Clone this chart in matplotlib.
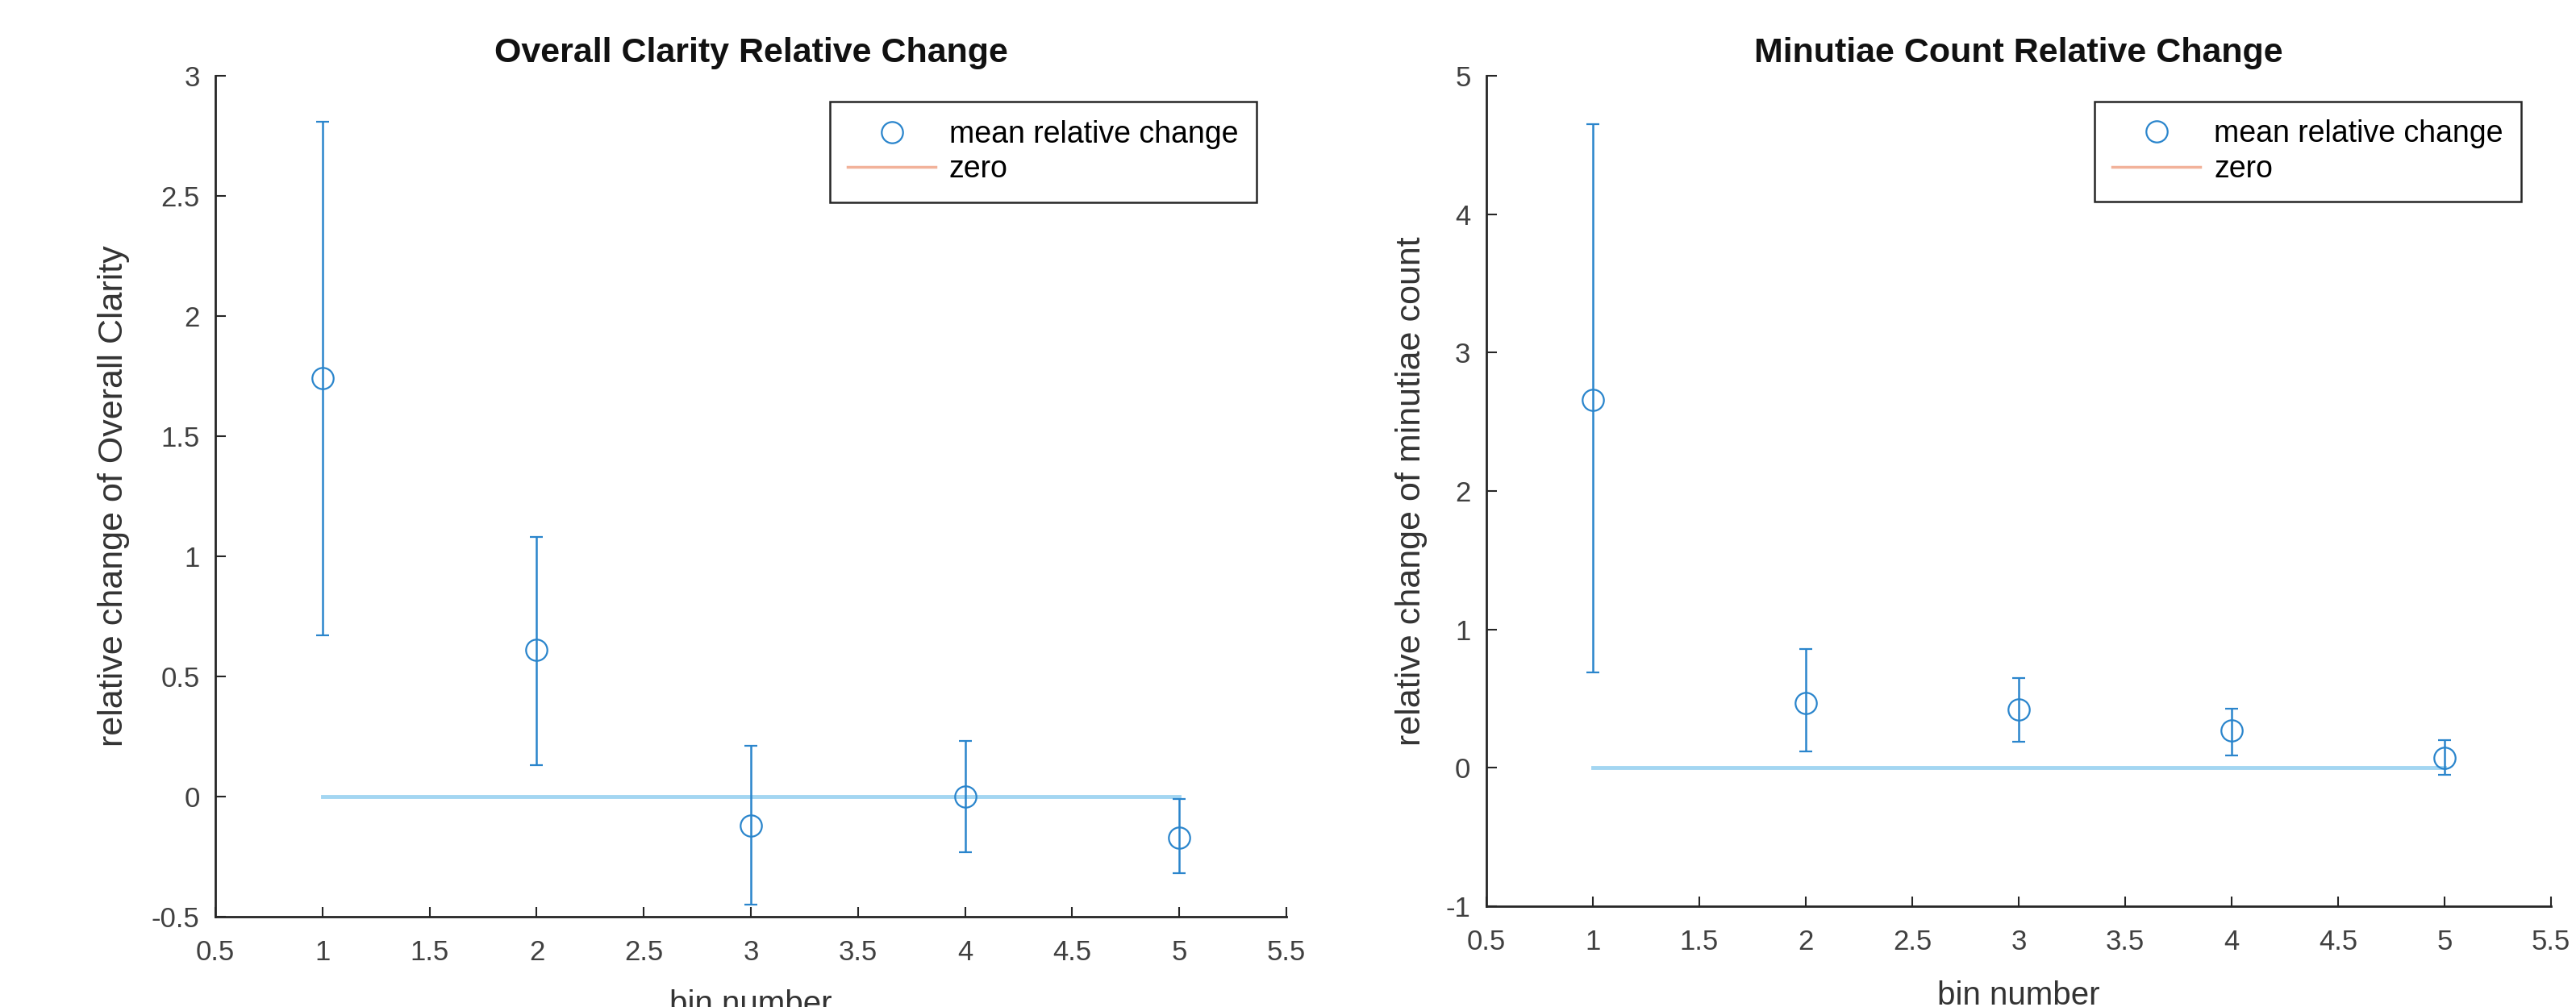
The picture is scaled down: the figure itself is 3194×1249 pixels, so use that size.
import matplotlib.pyplot as plt
from matplotlib.lines import Line2D
from matplotlib.ticker import FormatStrFormatter, MultipleLocator
import numpy as np

plt.rcParams['font.family'] = ['Liberation Sans', 'DejaVu Sans']
plt.rcParams['axes.unicode_minus'] = False

bins = [1, 2, 3, 4, 5]

clarity_mean = [1.74, 0.61, -0.12, 0.0, -0.17]
clarity_low = [0.67, 0.13, -0.45, -0.23, -0.32]
clarity_high = [2.81, 1.08, 0.21, 0.23, -0.01]

minutiae_mean = [2.66, 0.47, 0.42, 0.27, 0.07]
minutiae_low = [0.69, 0.12, 0.19, 0.09, -0.05]
minutiae_high = [4.65, 0.86, 0.65, 0.43, 0.20]

zero = [0, 0, 0, 0, 0]

blue = "#2a85cc"
light_blue = "#a3d6f2"
salmon = "#f2b29a"
dark = "#262626"

fig = plt.figure(figsize=(31.94, 12.49), dpi=100)
ax1 = fig.add_axes([0.0836, 0.0897, 0.4158, 0.8351])
ax2 = fig.add_axes([0.5770, 0.1001, 0.4133, 0.8246])


def draw(ax, mean, low, high, title, ylabel, ylim, ystep, xlab_y, ylab_x):
    mean = np.array(mean)
    err = [mean - np.array(low), np.array(high) - mean]
    ax.plot(bins, zero, color=light_blue, lw=3.5, zorder=1)
    ax.errorbar(bins, mean, yerr=err, fmt="o", mfc="none", mec=blue, ms=19,
                mew=1.6, ecolor=blue, elinewidth=1.8, capsize=5.5, capthick=1.8,
                zorder=2)

    ax.set_xlim(0.5, 5.5)
    ax.set_ylim(*ylim)
    ax.xaxis.set_major_locator(MultipleLocator(0.5))
    ax.yaxis.set_major_locator(MultipleLocator(ystep))
    ax.xaxis.set_major_formatter(FormatStrFormatter("%g"))
    ax.yaxis.set_major_formatter(FormatStrFormatter("%g"))

    for side in ["top", "right"]:
        ax.spines[side].set_visible(False)
    for side in ["left", "bottom"]:
        ax.spines[side].set_color(dark)
        ax.spines[side].set_linewidth(2)
    ax.tick_params(direction="in", length=9, width=1.5, colors=dark,
                   labelsize=25, labelcolor="#404040")
    ax.tick_params(axis="x", pad=20)
    ax.tick_params(axis="y", pad=14)

    ax.set_title(title, fontsize=31, fontweight="bold", color="#111111", pad=12)
    ax.set_xlabel("bin number", fontsize=29, color="#333333")
    ax.set_ylabel(ylabel, fontsize=31, color="#333333")
    ax.xaxis.set_label_coords(0.5, xlab_y)
    ax.yaxis.set_label_coords(ylab_x, 0.5)

    handles = [
        Line2D([], [], ls="none", marker="o", mfc="none", mec=blue, ms=19, mew=1.6),
        Line2D([], [], color=salmon, lw=2.5),
    ]
    leg = ax.legend(handles, ["mean relative change", "zero"], loc="upper right",
                    bbox_to_anchor=(0.972, 0.969), borderaxespad=0, fontsize=27,
                    fancybox=False, framealpha=1, edgecolor=dark,
                    handlelength=2.9, handletextpad=0.45, borderpad=0.6,
                    labelspacing=0.2)
    leg.get_frame().set_linewidth(1.8)


draw(ax1, clarity_mean, clarity_low, clarity_high,
     "Overall Clarity Relative Change", "relative change of Overall Clarity",
     (-0.5, 3), 0.5, -0.086, -0.080)
draw(ax2, minutiae_mean, minutiae_low, minutiae_high,
     "Minutiae Count Relative Change", "relative change of minutiae count",
     (-1, 5), 1, -0.089, -0.055)

fig.savefig("out.png", dpi=100)
